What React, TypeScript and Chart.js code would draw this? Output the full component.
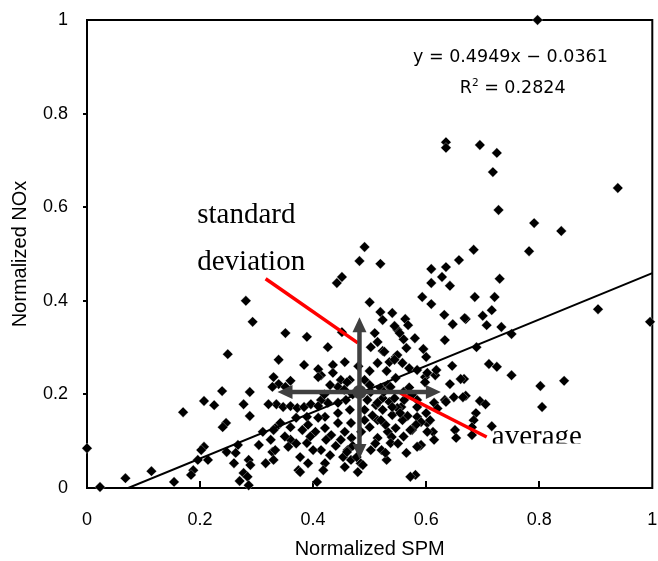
import { useEffect, useRef } from 'react';
import { Chart, registerables } from 'chart.js';

Chart.register(...registerables);

// [Normalized SPM, Normalized NOx]
const observations: [number, number][] = [
  [0.797, 1.0], [0.635, 0.739], [0.635, 0.727], [0.695, 0.733], [0.725, 0.716], [0.718, 0.675], [0.939, 0.641], [0.728, 0.594], [0.791, 0.566], [0.839, 0.549],
  [0.491, 0.515], [0.482, 0.485], [0.519, 0.479], [0.684, 0.509], [0.782, 0.506], [0.658, 0.487], [0.635, 0.472], [0.609, 0.468], [0.628, 0.451], [0.451, 0.451],
  [0.442, 0.438], [0.73, 0.447], [0.686, 0.408], [0.721, 0.408], [0.716, 0.38], [0.7, 0.368], [0.67, 0.361], [0.707, 0.348], [0.733, 0.344], [0.751, 0.329],
  [0.904, 0.382], [0.996, 0.355], [0.689, 0.301], [0.711, 0.265], [0.725, 0.259], [0.751, 0.241], [0.802, 0.218], [0.844, 0.229], [0.805, 0.173], [0.667, 0.233],
  [0.67, 0.197], [0.695, 0.186], [0.705, 0.179], [0.688, 0.16], [0.684, 0.145], [0.681, 0.13], [0.681, 0.113], [0.716, 0.132],
  [0.642, 0.432], [0.609, 0.438], [0.593, 0.408], [0.609, 0.393], [0.632, 0.37], [0.647, 0.35], [0.668, 0.363], [0.633, 0.316], [0.595, 0.297], [0.646, 0.261],
  [0.661, 0.233], [0.642, 0.222], [0.633, 0.188], [0.649, 0.194], [0.665, 0.194], [0.651, 0.124], [0.653, 0.107], [0.612, 0.12], [0.614, 0.103], [0.589, 0.09],
  [0.584, 0.152], [0.602, 0.139], [0.567, 0.154], [0.565, 0.075], [0.581, 0.028], [0.572, 0.024], [0.57, 0.256], [0.584, 0.252], [0.616, 0.241], [0.598, 0.237],
  [0.546, 0.235], [0.533, 0.218], [0.558, 0.267], [0.565, 0.299], [0.514, 0.267], [0.523, 0.293], [0.502, 0.301], [0.514, 0.312], [0.5, 0.397], [0.519, 0.376],
  [0.54, 0.374], [0.523, 0.359], [0.563, 0.361], [0.568, 0.348], [0.549, 0.338], [0.56, 0.318], [0.553, 0.331], [0.509, 0.331], [0.535, 0.269], [0.546, 0.28],
  [0.526, 0.291], [0.602, 0.246], [0.618, 0.252], [0.598, 0.226], [0.532, 0.22], [0.556, 0.173], [0.614, 0.182], [0.635, 0.184], [0.591, 0.141], [0.582, 0.135],
  [0.575, 0.124], [0.602, 0.12], [0.591, 0.092], [0.532, 0.12], [0.539, 0.109], [0.521, 0.081], [0.53, 0.06], [0.514, 0.107], [0.575, 0.199], [0.584, 0.188],
  [0.523, 0.192], [0.535, 0.184], [0.549, 0.171], [0.523, 0.167], [0.54, 0.156], [0.558, 0.145], [0.514, 0.145], [0.528, 0.135], [0.546, 0.128], [0.511, 0.177],
  [0.544, 0.346], [0.549, 0.284], [0.544, 0.274], [0.435, 0.263], [0.456, 0.269], [0.414, 0.241], [0.435, 0.246], [0.449, 0.231], [0.465, 0.231], [0.491, 0.231],
  [0.502, 0.205], [0.519, 0.214], [0.537, 0.216], [0.544, 0.192], [0.561, 0.188], [0.514, 0.182], [0.54, 0.173], [0.496, 0.188], [0.491, 0.167], [0.458, 0.188],
  [0.444, 0.182], [0.426, 0.182], [0.414, 0.188], [0.465, 0.167], [0.444, 0.16], [0.421, 0.152], [0.467, 0.139], [0.491, 0.145], [0.554, 0.16], [0.584, 0.173],
  [0.607, 0.145], [0.572, 0.124], [0.537, 0.096], [0.528, 0.075], [0.502, 0.081], [0.584, 0.088], [0.421, 0.128], [0.432, 0.113], [0.449, 0.103], [0.461, 0.081],
  [0.453, 0.066], [0.467, 0.06], [0.484, 0.053], [0.479, 0.034], [0.456, 0.045], [0.414, 0.081], [0.423, 0.103],
  [0.351, 0.331], [0.389, 0.323], [0.426, 0.301], [0.451, 0.333], [0.339, 0.274], [0.384, 0.263], [0.409, 0.254], [0.409, 0.237], [0.339, 0.222], [0.351, 0.216],
  [0.444, 0.216], [0.46, 0.226], [0.36, 0.229], [0.335, 0.179], [0.347, 0.173], [0.36, 0.175], [0.372, 0.171], [0.384, 0.173], [0.396, 0.179], [0.409, 0.175],
  [0.389, 0.152], [0.409, 0.15], [0.342, 0.139], [0.36, 0.13], [0.381, 0.124], [0.404, 0.12], [0.444, 0.139], [0.456, 0.12], [0.468, 0.107], [0.36, 0.103],
  [0.389, 0.096], [0.4, 0.081], [0.377, 0.066], [0.391, 0.053], [0.421, 0.053], [0.374, 0.038], [0.46, 0.077], [0.477, 0.066], [0.488, 0.049], [0.407, 0.013],
  [0.356, 0.088], [0.391, 0.135], [0.333, 0.128],
  [0.0, 0.085], [0.023, 0.002], [0.068, 0.021], [0.114, 0.036], [0.154, 0.013], [0.17, 0.162], [0.207, 0.186], [0.225, 0.177], [0.239, 0.207], [0.249, 0.286],
  [0.281, 0.4], [0.293, 0.355], [0.277, 0.179], [0.288, 0.205], [0.288, 0.154], [0.246, 0.139], [0.24, 0.13], [0.321, 0.179], [0.311, 0.12], [0.207, 0.088],
  [0.202, 0.081], [0.214, 0.06], [0.196, 0.06], [0.188, 0.038], [0.184, 0.028], [0.247, 0.077], [0.26, 0.053], [0.267, 0.092], [0.286, 0.06], [0.289, 0.049],
  [0.304, 0.092], [0.316, 0.053], [0.277, 0.032], [0.284, 0.024], [0.27, 0.015], [0.286, 0.006], [0.328, 0.077], [0.325, 0.103], [0.33, 0.124], [0.33, 0.237],
  [0.328, 0.216], [0.263, 0.075], [0.333, 0.081], [0.377, 0.034], [0.418, 0.038], [0.33, 0.06],
  [0.47, 0.2], [0.455, 0.21], [0.5, 0.22], [0.525, 0.205], [0.56, 0.205], [0.57, 0.215], [0.505, 0.155], [0.52, 0.145], [0.5, 0.13], [0.485, 0.12],
  [0.47, 0.09], [0.44, 0.09], [0.43, 0.07], [0.51, 0.095], [0.55, 0.095], [0.56, 0.11], [0.6, 0.16], [0.62, 0.17], [0.37, 0.15], [0.35, 0.11],
  [0.37, 0.095], [0.395, 0.11], [0.42, 0.2], [0.43, 0.22], [0.6, 0.28], [0.58, 0.32], [0.53, 0.25], [0.5, 0.25], [0.48, 0.26],
];

const xTickValues = [0, 0.2, 0.4, 0.6, 0.8, 1];
const xTickLabels = ['0', '0.2', '0.4', '0.6', '0.8', '1'];
const yTickValues = [0, 0.2, 0.4, 0.6, 0.8, 1];
const yTickLabels = ['0', '0.2', '0.4', '0.6', '0.8', '1'];

// linear trend line endpoints (y = 0.4949x - 0.0361)
const trendLine = [{ x: 0.073, y: 0 }, { x: 1, y: 0.459 }];
const equationText = 'y = 0.4949x \u2212 0.0361';
const r2Text = '0.2824';

// average and standard-deviation cross
const averagePoint = { x: 0.482, y: 0.205 };
const sdXRange = [0.337, 0.626];
const sdYRange = [0.062, 0.365];

// red pointer lines
const sdPointer = [{ x: 0.316, y: 0.447 }, { x: 0.479, y: 0.31 }];
const avgPointer = [{ x: 0.554, y: 0.203 }, { x: 0.707, y: 0.109 }];

const labelStandard = { text: 'standard', x: 0.195, y: 0.566 };
const labelDeviation = { text: 'deviation', x: 0.195, y: 0.466 };
const labelAverage = { text: 'average', x: 0.716, y: 0.092, clipY: 0.095 };
const equationPos = { x: 0.749, y: 0.921 };
const r2Pos = { x: 0.753, y: 0.857 };

function drawArrow(ctx: CanvasRenderingContext2D, x0: number, y0: number, x1: number, y1: number) {
  const ang = Math.atan2(y1 - y0, x1 - x0);
  const head = 15;
  const hw = 7;
  const bx = x1 - head * Math.cos(ang);
  const by = y1 - head * Math.sin(ang);
  ctx.beginPath();
  ctx.moveTo(x0, y0);
  ctx.lineTo(bx + Math.cos(ang), by + Math.sin(ang));
  ctx.stroke();
  ctx.beginPath();
  ctx.moveTo(x1, y1);
  ctx.lineTo(bx + hw * Math.sin(ang), by - hw * Math.cos(ang));
  ctx.lineTo(bx - hw * Math.sin(ang), by + hw * Math.cos(ang));
  ctx.closePath();
  ctx.fill();
}

const zeroPadding = (s: any) => {
  s.paddingLeft = 0;
  s.paddingRight = 0;
  s.paddingTop = 0;
  s.paddingBottom = 0;
};

const decor = {
  id: 'decor',
  beforeDatasetsDraw(chart: any) {
    const { ctx, chartArea: a, scales } = chart;
    const xs = scales.x;
    const ys = scales.y;
    ctx.save();
    ctx.strokeStyle = '#000';
    ctx.lineWidth = 2;
    ctx.strokeRect(a.left, a.top, a.right - a.left, a.bottom - a.top);
    ctx.beginPath();
    for (const v of xTickValues.slice(1, -1)) {
      const px = Math.round(xs.getPixelForValue(v));
      ctx.moveTo(px, a.bottom);
      ctx.lineTo(px, a.bottom - 7);
    }
    for (const v of yTickValues.slice(1, -1)) {
      const py = Math.round(ys.getPixelForValue(v));
      ctx.moveTo(a.left, py);
      ctx.lineTo(a.left - 4, py);
    }
    ctx.stroke();
    ctx.restore();
  },
  afterDatasetsDraw(chart: any) {
    const { ctx, scales } = chart;
    const xs = scales.x;
    const ys = scales.y;
    const X = (v: number) => xs.getPixelForValue(v);
    const Y = (v: number) => ys.getPixelForValue(v);
    ctx.save();

    // red pointer lines
    ctx.strokeStyle = '#ff0000';
    ctx.lineWidth = 3.5;
    ctx.lineCap = 'butt';
    for (const seg of [sdPointer, avgPointer]) {
      ctx.beginPath();
      ctx.moveTo(X(seg[0].x), Y(seg[0].y));
      ctx.lineTo(X(seg[1].x), Y(seg[1].y));
      ctx.stroke();
    }

    // gray cross arrows
    const cx = X(averagePoint.x);
    const cy = Y(averagePoint.y);
    ctx.strokeStyle = '#404040';
    ctx.fillStyle = '#404040';
    ctx.lineWidth = 4.5;
    drawArrow(ctx, cx, cy, X(sdXRange[0]), cy);
    drawArrow(ctx, cx, cy, X(sdXRange[1]), cy);
    drawArrow(ctx, cx, cy, cx, Y(sdYRange[1]));
    drawArrow(ctx, cx, cy, cx, Y(sdYRange[0]));
    ctx.beginPath();
    ctx.arc(cx, cy, 7, 0, Math.PI * 2);
    ctx.fill();

    // serif annotations
    ctx.fillStyle = '#000';
    ctx.font = '29px "Liberation Serif"';
    ctx.textAlign = 'left';
    ctx.textBaseline = 'alphabetic';
    ctx.fillText(labelStandard.text, X(labelStandard.x), Y(labelStandard.y));
    ctx.fillText(labelDeviation.text, X(labelDeviation.x), Y(labelDeviation.y));
    ctx.save();
    ctx.beginPath();
    ctx.rect(0, 0, chart.width, Y(labelAverage.clipY));
    ctx.clip();
    ctx.fillText(labelAverage.text, X(labelAverage.x), Y(labelAverage.y));
    ctx.restore();

    // regression equation
    ctx.font = '17.5px "DejaVu Sans"';
    ctx.textAlign = 'center';
    ctx.textBaseline = 'middle';
    ctx.fillText(equationText, X(equationPos.x), Y(equationPos.y));

    ctx.textAlign = 'left';
    ctx.textBaseline = 'alphabetic';
    const big = '17.5px "DejaVu Sans"';
    const small = '10.5px "DejaVu Sans"';
    ctx.font = big;
    const wR = ctx.measureText('R').width;
    const rest = ' = ' + r2Text;
    const wRest = ctx.measureText(rest).width;
    ctx.font = small;
    const w2 = ctx.measureText('2').width;
    const total = wR + w2 + wRest;
    let sx = X(r2Pos.x) - total / 2;
    const base = Y(r2Pos.y) + 6.4;
    ctx.font = big;
    ctx.fillText('R', sx, base);
    sx += wR;
    ctx.font = small;
    ctx.fillText('2', sx, base - 7);
    sx += w2;
    ctx.font = big;
    ctx.fillText(rest, sx, base);

    ctx.restore();
  },
};

export default function App() {
  const ref = useRef<HTMLCanvasElement>(null);
  useEffect(() => {
    const canvas = ref.current;
    if (!canvas) return;
    const chart = new Chart(canvas, {
      type: 'scatter',
      data: {
        datasets: [
          {
            type: 'line',
            label: 'trend',
            data: trendLine,
            borderColor: '#000',
            borderWidth: 2,
            pointRadius: 0,
            fill: false,
            order: 0,
          } as any,
          {
            label: 'observations',
            data: observations.map(([x, y]) => ({ x, y })),
            pointStyle: 'rectRot',
            pointRadius: 5.2,
            backgroundColor: '#000',
            borderColor: 'rgba(255,255,255,0.6)',
            borderWidth: 0.5,
            clip: false,
            order: 1,
          } as any,
        ],
      },
      options: {
        responsive: false,
        animation: false,
        events: [],
        layout: { padding: { top: 20, right: 1, left: 0, bottom: 0 } },
        plugins: { legend: { display: false }, tooltip: { enabled: false } },
        scales: {
          x: {
            type: 'linear',
            min: 0,
            max: 1,
            afterBuildTicks: (s: any) => {
              s.ticks = xTickValues.map((v) => ({ value: v }));
            },
            afterFit: (s: any) => {
              s.height = 73;
              zeroPadding(s);
            },
            grid: { display: false, drawTicks: false },
            border: { display: false },
            ticks: {
              padding: 21,
              color: '#000',
              font: { family: '"Liberation Sans"', size: 18 },
              maxRotation: 0,
              autoSkip: false,
              callback: (_v: any, i: number) => xTickLabels[i],
            },
            title: {
              display: true,
              text: 'Normalized SPM',
              color: '#000',
              font: { family: '"Liberation Sans"', size: 20 },
              padding: { top: 0, bottom: 0 },
            },
          },
          y: {
            type: 'linear',
            min: 0,
            max: 1,
            afterBuildTicks: (s: any) => {
              s.ticks = yTickValues.map((v) => ({ value: v }));
            },
            afterFit: (s: any) => {
              s.width = 87;
              zeroPadding(s);
            },
            grid: { display: false, drawTicks: false },
            border: { display: false },
            ticks: {
              padding: 19,
              color: '#000',
              font: { family: '"Liberation Sans"', size: 18 },
              autoSkip: false,
              callback: (_v: any, i: number) => yTickLabels[i],
            },
            title: {
              display: true,
              text: 'Normalized NOx',
              color: '#000',
              font: { family: '"Liberation Sans"', size: 20 },
              padding: { top: 8, bottom: 0 },
            },
          },
        },
      },
      plugins: [decor],
    } as any);
    return () => chart.destroy();
  }, []);
  return (
    <div style={{ position: 'fixed', left: 0, top: 0, width: 658, height: 561, background: '#fff' }}>
      <canvas ref={ref} width={658} height={561} style={{ display: 'block' }} />
    </div>
  );
}
